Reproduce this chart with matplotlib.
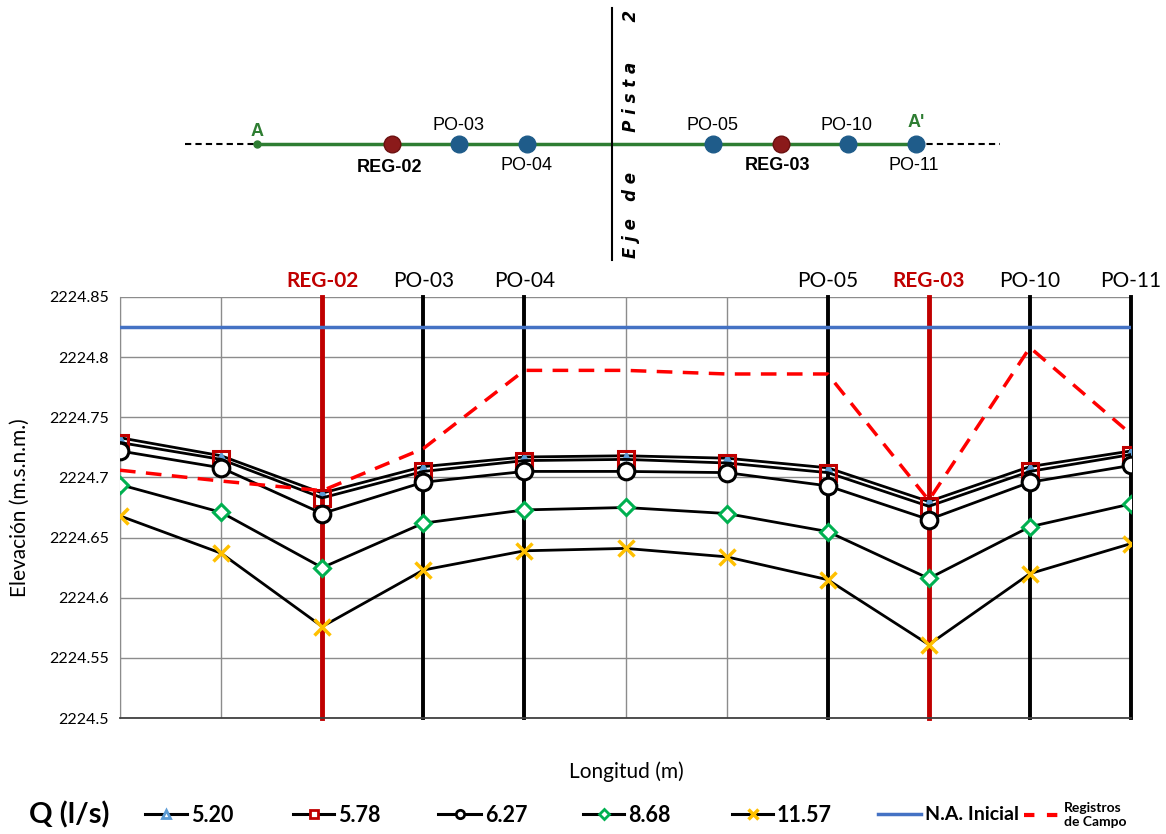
import matplotlib
matplotlib.use("Agg")
import matplotlib.pyplot as plt
from matplotlib.lines import Line2D
import numpy as np

plt.rcParams['font.family'] = ['Lato', 'DejaVu Sans']

# ---------------- data ----------------
x_pos = list(range(11))
q520 = [2224.733, 2224.718, 2224.687, 2224.709, 2224.717, 2224.718, 2224.716, 2224.708, 2224.680, 2224.709, 2224.722]
q578 = [2224.729, 2224.715, 2224.683, 2224.705, 2224.714, 2224.715, 2224.712, 2224.704, 2224.676, 2224.705, 2224.719]
q627 = [2224.722, 2224.708, 2224.670, 2224.696, 2224.705, 2224.705, 2224.704, 2224.693, 2224.665, 2224.696, 2224.710]
q868 = [2224.694, 2224.671, 2224.625, 2224.662, 2224.673, 2224.675, 2224.670, 2224.655, 2224.616, 2224.659, 2224.678]
q1157 = [2224.668, 2224.637, 2224.576, 2224.623, 2224.639, 2224.641, 2224.634, 2224.615, 2224.561, 2224.620, 2224.645]
na_inicial = [2224.825] * 11
registros = [2224.706, 2224.697, 2224.689, 2224.724, 2224.789, 2224.789, 2224.786, 2224.786, 2224.681, 2224.808, 2224.736]

station_x = [2, 3, 4, 7, 8, 9, 10]
station_names = ['REG-02', 'PO-03', 'PO-04', 'PO-05', 'REG-03', 'PO-10', 'PO-11']
station_is_reg = [True, False, False, False, True, False, False]

y_ticks = [2224.5, 2224.55, 2224.6, 2224.65, 2224.7, 2224.75, 2224.8, 2224.85]
y_tick_labels = ['2224.5', '2224.55', '2224.6', '2224.65', '2224.7', '2224.75', '2224.8', '2224.85']

legend_labels = ['5.20', '5.78', '6.27', '8.68', '11.57', 'N.A. Inicial', 'Registros\nde Campo']

# schematic (top) data, in pixel-like units
sch_names = ['A', 'REG-02', 'PO-03', 'PO-04', 'PO-05', 'REG-03', 'PO-10', "PO-11"]
sch_x = [257, 392, 459, 527, 713, 781, 848, 916]

DARKRED = '#C00000'
BLUE = '#4472C4'
GREEN = '#00B050'
GOLD = '#FFC000'
TRI = '#5B9BD5'
SCH_GREEN = '#2E7D32'
SCH_BLUE = '#1F5C8A'
SCH_RED = '#8B1A1A'

fig = plt.figure(figsize=(11.66, 8.34), dpi=100)

# ---------------- main chart ----------------
ax = fig.add_axes([120/1166, 1-718/834, (1131-120)/1166, (718-297)/834])
ax.set_xlim(0, 10)
ax.set_ylim(2224.5, 2224.85)
ax.set_yticks(y_ticks)
ax.set_yticklabels(y_tick_labels, fontsize=11.5)
ax.set_xticks(x_pos)
ax.set_xticklabels([])
ax.tick_params(length=0, pad=8)
ax.grid(True, color='#8c8c8c', linewidth=1.0)
ax.set_axisbelow(True)
for s in ['top', 'right']:
    ax.spines[s].set_visible(False)
ax.spines['left'].set_color('#8c8c8c')
ax.spines['bottom'].set_color('#404040')
ax.spines['bottom'].set_linewidth(1.3)

ax.plot(x_pos, na_inicial, color=BLUE, lw=2.5, zorder=3)

for sx, nm, reg in zip(station_x, station_names, station_is_reg):
    ax.axvline(sx, color=DARKRED if reg else 'black', lw=3.5 if reg else 2.8, zorder=2, clip_on=False)
    ax.text(sx, 2224.855, nm, ha='center', va='bottom', fontsize=15,
            color=DARKRED if reg else 'black', fontweight='bold' if reg else 'normal',
            transform=ax.transData)

ax.plot(x_pos, registros, color='#FF0000', lw=2.5, ls=(0, (4.5, 3)), zorder=6, dash_capstyle='butt')

ax.plot(x_pos, q520, color='black', lw=2, marker='^', ms=6, mfc=TRI, mec=TRI, zorder=4)
ax.plot(x_pos, q578, color='black', lw=2, marker='s', ms=11, mfc='none', mec=DARKRED, mew=2.2, zorder=5)
ax.plot(x_pos, q627, color='black', lw=2, marker='o', ms=12, mfc='white', mec='black', mew=2.2, zorder=5)
ax.plot(x_pos, q868, color='black', lw=2, marker='D', ms=8, mfc='white', mec=GREEN, mew=2.2, zorder=5)
ax.plot(x_pos, q1157, color='black', lw=2, marker='x', ms=11, mec=GOLD, mew=2.5, zorder=5)

ax.set_ylabel('Elevación (m.s.n.m.)', fontsize=15, labelpad=14)
fig.text(626/1166, 1-772/834, 'Longitud (m)', ha='center', va='center', fontsize=15)

# ---------------- legend ----------------
handles = [
    Line2D([], [], color='black', lw=2.2, marker='^', ms=6, mfc='white', mec=TRI, mew=2),
    Line2D([], [], color='black', lw=2.2, marker='s', ms=6, mfc='white', mec=DARKRED, mew=2),
    Line2D([], [], color='black', lw=2.2, marker='o', ms=6, mfc='white', mec='black', mew=2),
    Line2D([], [], color='black', lw=2.2, marker='D', ms=5, mfc='white', mec=GREEN, mew=2),
    Line2D([], [], color='black', lw=2.2, marker='x', ms=7, mec=GOLD, mew=2.5),
    Line2D([], [], color=BLUE, lw=2.5),
    Line2D([], [], color='#FF0000', lw=3, ls=(0, (2.5, 3)), dash_capstyle='butt'),
]
leg_x = [145, 293, 438, 583, 732, 878, 1024]
leg_hlen_px = [42, 41, 43, 41, 41, 43, 36]
leg_fs = [15.5, 15.5, 15.5, 15.5, 15.5, 14, 10]
fig_y = 1 - 815/834
for h, lab, lx, hl, fs in zip(handles, legend_labels, leg_x, leg_hlen_px, leg_fs):
    fs_px = fs * 100 / 72
    fig.legend([h], [lab], loc='center left', bbox_to_anchor=(lx/1166, fig_y),
               frameon=False, borderpad=0, borderaxespad=0, handlelength=hl / fs_px,
               handletextpad=4 / fs_px, prop={'size': fs, 'weight': 'bold'})
fig.text(29/1166, fig_y, 'Q (l/s)', ha='left', va='center', fontsize=21, fontweight='bold')

# ---------------- schematic ----------------
sax = fig.add_axes([0, 0, 1, 1], zorder=-1)
sax.set_xlim(0, 1166)
sax.set_ylim(834, 0)
sax.axis('off')
sax.plot([185, 257], [144, 144], color='black', lw=1.5, ls=(0, (3, 2)))
sax.plot([916, 1000], [144, 144], color='black', lw=1.5, ls=(0, (3, 2)))
sax.plot([257, 916], [144, 144], color=SCH_GREEN, lw=2.5)
sax.plot([612, 612], [8, 260], color='black', lw=1.5)
sax.text(631, 134, 'E j e   d e       P i s t a       2', rotation=90, ha='center', va='center',
         fontsize=12, fontweight='bold', fontstyle='italic', family=['DejaVu Sans'])

for nm, xx in zip(sch_names, sch_x):
    if nm == 'A':
        sax.plot([xx], [144], 'o', color=SCH_GREEN, ms=5)
    elif nm.startswith('REG'):
        sax.plot([xx], [144], 'o', color=SCH_RED, ms=12, mec='#6b1010')
    else:
        sax.plot([xx], [144], 'o', color=SCH_BLUE, ms=12)

sax.text(257, 131, 'A', ha='center', va='center', fontsize=13, fontweight='bold', color=SCH_GREEN,
         family=['Liberation Sans'])
sax.text(916, 122, "A'", ha='center', va='center', fontsize=13, fontweight='bold', color=SCH_GREEN,
         family=['Liberation Sans'])
above = {'PO-03': (459, 125), 'PO-05': (713, 125), 'PO-10': (847, 125)}
below = {'REG-02': (390, 167), 'PO-04': (527, 165), 'REG-03': (777, 165), 'PO-11': (914, 165)}
for nm, (xx, yy) in above.items():
    sax.text(xx, yy, nm, ha='center', va='center', fontsize=13, family=['Liberation Sans'])
for nm, (xx, yy) in below.items():
    sax.text(xx, yy, nm, ha='center', va='center', fontsize=13, family=['Liberation Sans'],
             fontweight='bold' if nm.startswith('REG') else 'normal')

fig.savefig('out.png', dpi=100)
